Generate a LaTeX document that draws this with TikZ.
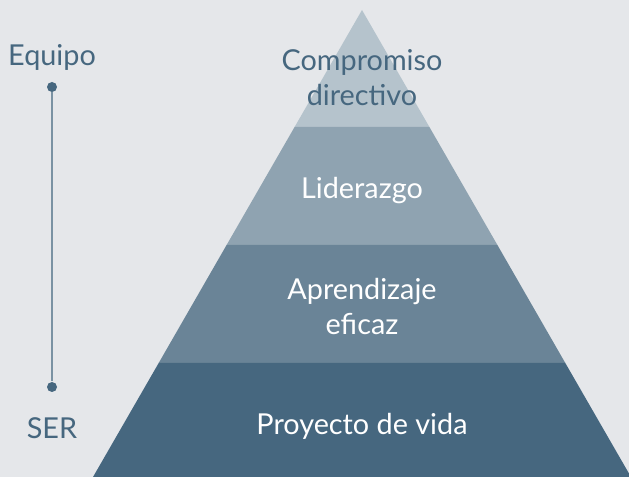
\documentclass[tikz,border=0pt]{standalone}
\usepackage{fontspec}
\setmainfont{Lato}
\definecolor{bgcol}{RGB}{229,231,234}
\definecolor{tiercol}{RGB}{181,195,204}
\definecolor{tiercolb}{RGB}{143,163,177}
\definecolor{tiercolc}{RGB}{106,132,151}
\definecolor{tiercold}{RGB}{70,103,127}
\definecolor{axiscol}{RGB}{122,146,163}
\tikzset{every picture/.style={line width=0.75pt}}
\tikzset{
  tiertext/.style={inner sep=0.75pt, align=center, font=\fontsize{21.6}{26.25}\selectfont},
  sidetext/.style={inner sep=0.75pt, font=\fontsize{21.6}{26}\selectfont, color=tiercold},
  enddot/.style={circle, fill=tiercold, inner sep=0pt, minimum size=7.5pt}
}
\begin{document}
\begin{tikzpicture}[x=0.75pt,y=0.75pt,yscale=-1,xscale=1]
	%Background
	\fill [bgcol] (0,0) rectangle (629,477);
	\useasboundingbox (0,0) rectangle (629,477);
	\begin{scope}
	\clip (0,0) rectangle (629,477);
	%Shape: Pyramid top [id:tier1]
	\fill [tiercol] (362,10) -- (429.4,127) -- (294.6,127) -- cycle ;
	%Shape: Pyramid second [id:tier2]
	\fill [tiercolb] (294.6,127) -- (429.4,127) -- (497.4,245) -- (226.6,245) -- cycle ;
	%Shape: Pyramid third [id:tier3]
	\fill [tiercolc] (226.6,245) -- (497.4,245) -- (565.3,363) -- (158.7,363) -- cycle ;
	%Shape: Pyramid base [id:tier4]
	\fill [tiercold] (158.7,363) -- (565.3,363) -- (631,477) -- (93,477) -- cycle ;
	\end{scope}

	% Text Node
	\node [tiertext, color=tiercold] (compromiso) at (362,77.5) {Compromiso\\directivo};
	% Text Node
	\node [tiertext, color=white] (liderazgo) at (362,190.5) {Liderazgo};
	% Text Node
	\node [tiertext, color=white] (aprendizaje) at (362,306.5) {Aprendizaje\\eficaz};
	% Text Node
	\node [tiertext, color=white] (proyecto) at (362,426.5) {Proyecto de vida};

	% Side scale
	\node [sidetext] (equipo) at (52,57) {Equipo};
	\node [sidetext] (ser) at (52,428) {SER};
	\node [enddot] (dottop) at (52,87) {};
	\node [enddot] (dotbot) at (52,387) {};
	%Straight Lines [id:scale]
	\draw [color=axiscol, line width=1.5pt] (dottop) -- (dotbot) ;
\end{tikzpicture}
\end{document}
